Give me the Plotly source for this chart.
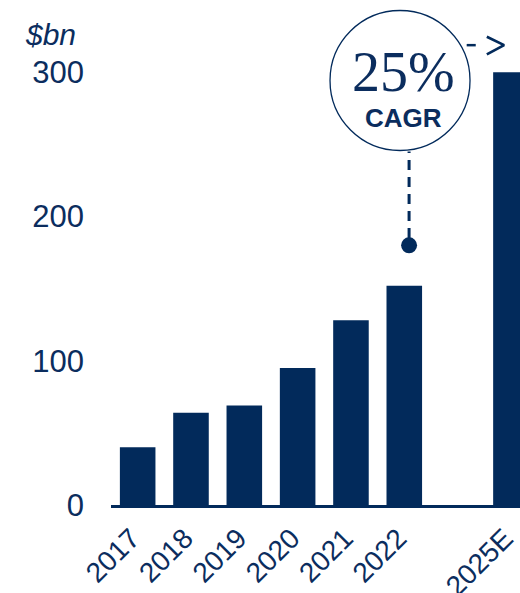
import plotly.graph_objects as go

# Market size, $bn
years = ["2017", "2018", "2019", "2020", "2021", "2022"]
values = [40, 64, 69, 95, 128, 152]
estimate_label = "2025E"
estimate_value = 300
cagr_text = "25%"
cagr_caption = "CAGR"
marker_value = 180
y_ticks = [0, 100, 200, 300]

NAVY = "#022A5B"
TEXT = "#0B2D5E"

# slot positions: one empty slot between the last actual year and the estimate
labels = years + [estimate_label]
heights = values + [estimate_value]
positions = list(range(len(years))) + [len(years) + 1]

fig = go.Figure()
fig.add_trace(go.Bar(
    x=positions, y=heights, width=0.667,
    marker=dict(color=NAVY, line=dict(width=0)),
    hoverinfo="skip",
))

last_x = positions[len(years) - 1]
dot_x = last_x + 0.09

# dashed leader line from the CAGR bubble down to the marker dot
fig.add_trace(go.Scatter(
    x=[dot_x, dot_x], y=[marker_value + 5, 245],
    mode="lines", line=dict(color=NAVY, width=3, dash="10px,7px"),
    hoverinfo="skip",
))
fig.add_trace(go.Scatter(
    x=[dot_x], y=[marker_value], mode="markers",
    marker=dict(color=NAVY, size=16), hoverinfo="skip",
))

# "- >" arrow pointing towards the estimate bar
fig.add_trace(go.Scatter(
    x=[6.17, 6.34], y=[318.7, 318.7],
    mode="lines", line=dict(color=NAVY, width=2.5),
    hoverinfo="skip",
))
fig.add_trace(go.Scatter(
    x=[6.548, 6.872, 6.548], y=[324.5, 318.7, 312.3],
    mode="lines", line=dict(color=NAVY, width=2.7),
    hoverinfo="skip",
))

# CAGR bubble
bubble_x, bubble_y = 4.92, 294.2
fig.add_shape(
    type="circle", xref="x", yref="y",
    xsizemode="pixel", ysizemode="pixel",
    xanchor=bubble_x, yanchor=bubble_y,
    x0=-70, x1=70, y0=-70, y1=70,
    line=dict(color=NAVY, width=1.3), fillcolor="white", layer="above",
)
fig.add_annotation(
    x=4.99, y=300, xref="x", yref="y", text=cagr_text, showarrow=False,
    font=dict(family="Liberation Serif", size=56, color=TEXT),
    xanchor="center", yanchor="middle",
)
fig.add_annotation(
    x=4.99, y=268, xref="x", yref="y", text="<b>" + cagr_caption + "</b>",
    showarrow=False,
    font=dict(family="Liberation Sans", size=26, color=TEXT),
    xanchor="center", yanchor="middle",
)

# unit label
fig.add_annotation(
    x=-0.215, y=326, xref="paper", yref="y", text="<i>$bn</i>", showarrow=False,
    font=dict(family="Liberation Sans", size=30, color=TEXT),
    xanchor="left", yanchor="middle",
)

fig.update_layout(
    width=520, height=593,
    margin=dict(l=111, r=0, t=0, b=88),
    paper_bgcolor="white", plot_bgcolor="white",
    showlegend=False,
    xaxis=dict(
        range=[-0.5, 7.17], tickvals=positions, ticktext=labels,
        tickangle=-45, ticklabelstandoff=3, ticklabelshift=-6,
        ticklabeloverflow="allow",
        tickfont=dict(family="Liberation Sans", size=28, color=TEXT),
        showgrid=False, zeroline=False, automargin=False,
        showline=True, linecolor=NAVY, linewidth=2.5,
        ticks="",
    ),
    yaxis=dict(
        range=[0, 350], tickvals=y_ticks,
        tickfont=dict(family="Liberation Sans", size=31, color=TEXT),
        ticklabelstandoff=26, automargin=False,
        showgrid=False, zeroline=False, showline=False, ticks="",
    ),
)

fig.write_html("out.html")
